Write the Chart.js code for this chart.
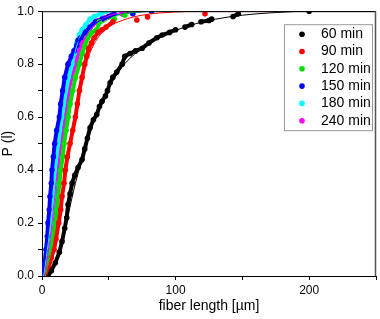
<!DOCTYPE html>
<html>
<head>
<meta charset="utf-8">
<script src="https://cdn.jsdelivr.net/npm/chart.js@4/dist/chart.umd.min.js"></script>
<style>
  html, body { margin: 0; padding: 0; background: #fff; }
</style>
</head>
<body>
<canvas id="chart" width="380" height="319"></canvas>
<script>
// Measured points (fiber length in µm, cumulative probability)
const seriesLabels = ['60 min', '90 min', '120 min', '150 min', '180 min', '240 min'];
const seriesColors = ['#000000', '#ff0000', '#00e000', '#0000ff', '#00ffff', '#ff00ff'];

const len60 = [4.5, 7, 10, 13, 15, 17, 18.5, 19.5, 21, 22.5, 24.5, 27, 30, 32, 34, 36, 38.5, 41, 43, 45, 47.5, 49, 51, 53, 56, 60, 62, 66, 70, 75, 80, 86, 90, 95.5, 100, 107, 112, 119, 125, 127, 143, 147, 200];
const p60   = [0, 0.02, 0.05, 0.09, 0.13, 0.18, 0.22, 0.27, 0.31, 0.35, 0.38, 0.41, 0.44, 0.48, 0.52, 0.56, 0.59, 0.61, 0.64, 0.66, 0.68, 0.7, 0.73, 0.75, 0.77, 0.8, 0.83, 0.84, 0.85, 0.86, 0.88, 0.9, 0.91, 0.92, 0.93, 0.94, 0.95, 0.96, 0.965, 0.97, 0.98, 0.99, 1.0];

const len90 = [3.5, 5, 7, 9, 10.5, 12.5, 14, 15, 16.5, 17.5, 19, 21, 23, 25, 26.5, 28, 30, 32, 33.5, 35, 37, 39, 42, 45, 48, 53, 71, 79, 122];
const p90   = [0, 0.03, 0.07, 0.1, 0.14, 0.2, 0.25, 0.3, 0.35, 0.4, 0.45, 0.5, 0.55, 0.6, 0.65, 0.7, 0.75, 0.8, 0.83, 0.86, 0.88, 0.9, 0.92, 0.93, 0.94, 0.96, 0.967, 0.978, 0.99];

const len120 = [2.5, 4.5, 7, 8.5, 10, 11, 12, 13, 14, 15.5, 16.5, 18, 19.5, 21, 23, 25, 28, 30, 32, 34, 37, 41, 43, 54, 62];
const p120   = [0, 0.05, 0.1, 0.15, 0.2, 0.25, 0.3, 0.35, 0.4, 0.45, 0.5, 0.55, 0.6, 0.65, 0.7, 0.75, 0.8, 0.84, 0.87, 0.9, 0.92, 0.93, 0.96, 0.97, 0.985];

const len150 = [0.5, 2, 3, 4, 4.5, 5.5, 6, 7, 7.5, 8.5, 9.5, 11, 13, 14, 15.5, 17, 19.5, 22, 24, 26, 27, 29, 32, 36, 40, 45, 50, 54, 68, 82];
const p150   = [0, 0.05, 0.1, 0.15, 0.2, 0.25, 0.3, 0.35, 0.4, 0.45, 0.5, 0.55, 0.6, 0.65, 0.7, 0.75, 0.8, 0.83, 0.85, 0.87, 0.89, 0.9, 0.92, 0.94, 0.96, 0.97, 0.98, 0.99, 0.99, 1.0];

const len180 = [1, 2.5, 4, 5, 6.5, 7.5, 8.5, 9.5, 10, 11, 12.5, 13.5, 15, 16.5, 18, 20, 22.5, 24, 26, 28, 30, 33, 36, 39, 44, 48];
const p180   = [0, 0.05, 0.1, 0.15, 0.2, 0.25, 0.3, 0.35, 0.4, 0.45, 0.5, 0.55, 0.6, 0.65, 0.7, 0.75, 0.8, 0.84, 0.88, 0.91, 0.93, 0.95, 0.97, 0.98, 0.99, 1.0];

const len240 = [1.5, 3, 5, 6, 7.5, 8.5, 9.5, 10.5, 11.5, 12.5, 14, 15.5, 17, 18.5, 20, 22, 25, 27, 29.5, 32, 35, 38, 42, 47, 52, 60, 63];
const p240   = [0, 0.05, 0.1, 0.15, 0.2, 0.25, 0.3, 0.35, 0.4, 0.45, 0.5, 0.55, 0.6, 0.65, 0.7, 0.75, 0.8, 0.84, 0.88, 0.91, 0.93, 0.95, 0.965, 0.975, 0.985, 0.99, 1.0];

// Fitted curves
const fitLen60 = [5, 10, 15, 20, 25, 30, 35, 40, 50, 60, 75, 90, 110, 130, 150, 175, 200, 250];
const fitP60   = [0, 0.05, 0.13, 0.24, 0.35, 0.44, 0.53, 0.6, 0.71, 0.79, 0.86, 0.905, 0.945, 0.97, 0.985, 0.995, 1, 1];
const fitLen90 = [3.5, 9, 12.5, 15, 17.5, 21, 25, 28.5, 33, 40, 50, 60, 75, 100, 130, 250];
const fitP90   = [0, 0.1, 0.2, 0.3, 0.4, 0.5, 0.6, 0.7, 0.8, 0.885, 0.94, 0.965, 0.985, 0.997, 1, 1];
const fitLen120 = [2.5, 7, 10, 12, 14, 16.5, 19.5, 23, 28, 34, 42, 52, 65, 85, 250];
const fitP120   = [0, 0.1, 0.2, 0.3, 0.4, 0.5, 0.6, 0.7, 0.8, 0.88, 0.94, 0.975, 0.993, 1, 1];
const fitLen150 = [0.5, 3, 4.5, 6, 7.5, 9.5, 12.5, 15.5, 19.5, 25, 32, 40, 50, 65, 90, 250];
const fitP150   = [0, 0.1, 0.2, 0.3, 0.4, 0.5, 0.6, 0.7, 0.8, 0.87, 0.92, 0.955, 0.978, 0.993, 1, 1];
const fitLen180 = [1, 4, 6.5, 8.5, 10, 12.5, 15, 18, 22.5, 27, 33, 40, 50, 60, 250];
const fitP180   = [0, 0.1, 0.2, 0.3, 0.4, 0.5, 0.6, 0.7, 0.8, 0.885, 0.945, 0.98, 0.996, 1, 1];
const fitLen240 = [1.5, 5, 7.5, 9.5, 11.5, 14, 17, 20, 25, 30, 37, 45, 55, 70, 250];
const fitP240   = [0, 0.1, 0.2, 0.3, 0.4, 0.5, 0.6, 0.7, 0.8, 0.875, 0.935, 0.97, 0.99, 1, 1];

const pointLens = [len60, len90, len120, len150, len180, len240];
const pointProbs = [p60, p90, p120, p150, p180, p240];
const fitLens = [fitLen60, fitLen90, fitLen120, fitLen150, fitLen180, fitLen240];
const fitProbs = [fitP60, fitP90, fitP120, fitP150, fitP180, fitP240];

const FONT = 'Arial, "Liberation Sans", sans-serif';
const toXY = (xs, ys) => xs.map((x, i) => ({ x: x, y: ys[i] }));

const datasets = [];
seriesLabels.forEach((label, i) => {
    datasets.push({
        label: label,
        data: toXY(pointLens[i], pointProbs[i]),
        showLine: true,
        borderColor: seriesColors[i],
        backgroundColor: seriesColors[i],
        borderWidth: 4,
        pointRadius: 2.8,
        pointBorderWidth: 0,
        order: 1,
        // only join the dense part of the curve, leave the sparse tail as dots
        segment: {
            borderColor: c => (c.p1.parsed.x - c.p0.parsed.x > 6 ? 'transparent' : undefined)
        }
    });
});
seriesLabels.forEach((label, i) => {
    datasets.push({
        label: 'fit ' + label,
        data: toXY(fitLens[i], fitProbs[i]),
        showLine: true,
        borderColor: seriesColors[i],
        borderWidth: 1,
        pointRadius: 0,
        cubicInterpolationMode: 'monotone',
        order: 0
    });
});

// Box round the plot and the legend
const framePlugin = {
    id: 'frame',
    afterDraw(chart) {
        const { ctx, chartArea: a } = chart;
        ctx.save();
        ctx.strokeStyle = '#000';
        ctx.lineWidth = 1;
        ctx.beginPath();
        ctx.moveTo(a.left, a.top + 0.5);
        ctx.lineTo(a.right, a.top + 0.5);
        ctx.stroke();
        ctx.strokeStyle = '#555';
        ctx.lineWidth = 1.5;
        ctx.beginPath();
        ctx.moveTo(a.right - 0.5, a.top);
        ctx.lineTo(a.right - 0.5, a.bottom);
        ctx.stroke();

        // legend box
        const lx = a.right - 92, ly = a.top + 13, lw = 88, lh = 106;
        ctx.fillStyle = '#fff';
        ctx.fillRect(lx, ly, lw, lh);
        ctx.strokeStyle = '#999';
        ctx.lineWidth = 1;
        ctx.strokeRect(lx + 0.5, ly + 0.5, lw, lh);
        ctx.font = '14px ' + FONT;
        ctx.textBaseline = 'middle';
        seriesLabels.forEach((label, i) => {
            const y = ly + 10 + i * 17.3;
            ctx.fillStyle = seriesColors[i];
            ctx.beginPath();
            ctx.arc(lx + 18, y, 2.8, 0, Math.PI * 2);
            ctx.fill();
            ctx.fillStyle = '#000';
            ctx.fillText(label, lx + 37, y);
        });
        ctx.restore();
    }
};

new Chart(document.getElementById('chart'), {
    type: 'scatter',
    data: { datasets: datasets },
    options: {
        responsive: false,
        animation: false,
        layout: { padding: { top: 6, right: 4, left: 0, bottom: 0 } },
        plugins: {
            legend: { display: false },
            tooltip: { enabled: false }
        },
        scales: {
            x: {
                min: 0,
                max: 250,
                border: { color: '#000', width: 1 },
                grid: { drawOnChartArea: false, drawTicks: true, tickLength: 4, color: '#000' },
                ticks: {
                    stepSize: 50,
                    color: '#000',
                    font: { family: FONT, size: 12 },
                    padding: 3,
                    maxRotation: 0,
                    callback: v => (v % 100 === 0 ? String(v) : '')
                },
                title: {
                    display: true,
                    text: 'fiber length [µm]',
                    color: '#000',
                    font: { family: FONT, size: 14 },
                    padding: { top: 0, bottom: 4 }
                },
                afterFit: s => { s.height = 43; }
            },
            y: {
                min: 0,
                max: 1,
                border: { color: '#000', width: 1 },
                grid: { drawOnChartArea: false, drawTicks: true, tickLength: 4, color: '#000' },
                ticks: {
                    stepSize: 0.1,
                    color: '#000',
                    font: { family: FONT, size: 12 },
                    padding: 4,
                    callback: v => (Math.round(v * 10) % 2 === 0 ? v.toFixed(1) : '')
                },
                title: {
                    display: true,
                    text: 'P (l)',
                    color: '#000',
                    font: { family: FONT, size: 14 },
                    padding: { top: 0, bottom: 0 }
                },
                afterFit: s => { s.width = 42; }
            }
        }
    },
    plugins: [framePlugin]
});
</script>
</body>
</html>
